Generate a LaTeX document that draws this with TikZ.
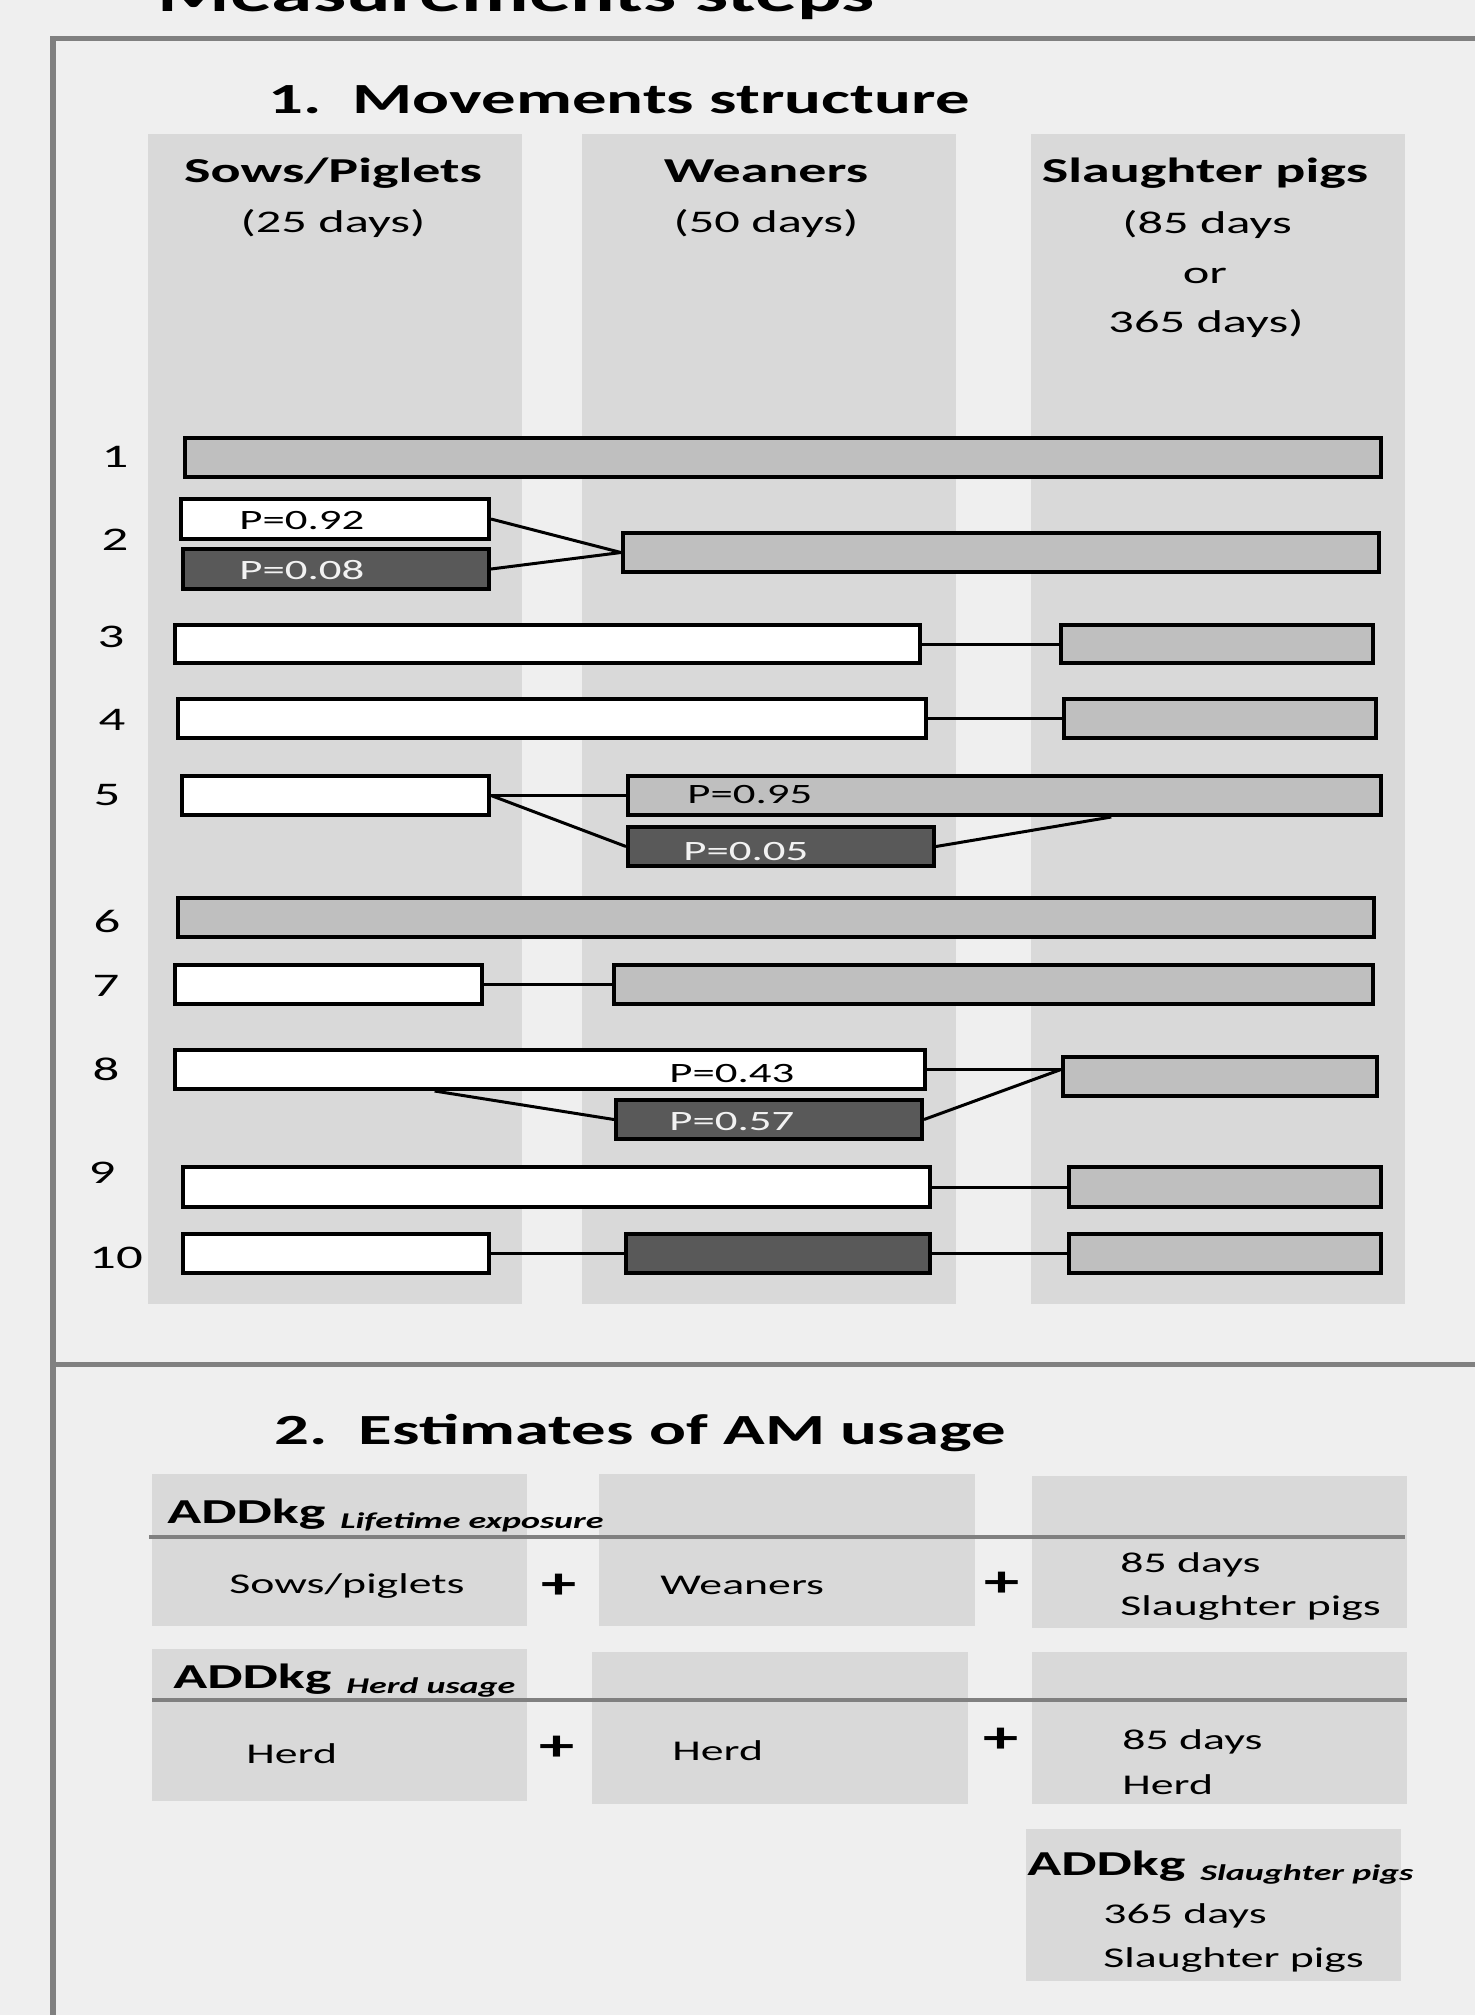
\documentclass[tikz,border=0pt]{standalone}
\usepackage{fontspec}
\setmainfont{Carlito}[FakeStretch=1.6]
\usetikzlibrary{positioning, calc, fit}
\definecolor{bgPage}{HTML}{EFEFEF}
\definecolor{bgPanel}{HTML}{D9D9D9}
\definecolor{barGray}{HTML}{BFBFBF}
\definecolor{barDark}{HTML}{595959}
\definecolor{frameGray}{HTML}{808080}
\definecolor{textLight}{HTML}{F2F2F2}
\tikzset{
  panel/.style={fill=bgPanel, draw=none, inner sep=0pt},
  bar/.style={draw=black, line width=2pt, inner sep=0pt},
  wbar/.style={bar, fill=white},
  gbar/.style={bar, fill=barGray},
  dbar/.style={bar, fill=barDark},
  link/.style={draw=black, line width=1.5pt},
  frameline/.style={draw=frameGray, line width=2.75pt},
  divline/.style={draw=frameGray, line width=2pt},
  txt/.style={inner sep=0pt, text=black},
  bigtitle/.style={txt, font=\fontsize{26}{31}\selectfont\bfseries},
  sectitle/.style={txt, font=\fontsize{21.5}{26}\selectfont\bfseries},
  colhead/.style={txt, font=\fontsize{17.5}{21}\selectfont\bfseries},
  colsub/.style={txt, font=\fontsize{15.75}{19}\selectfont},
  rowlbl/.style={txt, font=\fontsize{16.5}{20}\selectfont},
  plbl/.style={txt, font=\fontsize{14}{17}\selectfont},
  plbldark/.style={plbl, text=textLight},
  addkg/.style={txt, font=\fontsize{17.5}{21}\selectfont\bfseries},
  boxtxt/.style={txt, font=\fontsize{14.3}{17}\selectfont},
  plussign/.style={txt, font=\fontsize{22}{26}\selectfont\bfseries},
}
\newcommand{\addsub}[1]{\hspace{7.5pt}\raisebox{-2.5pt}{\fontsize{11.25}{13}\selectfont\bfseries\itshape #1}}

\begin{document}
\begin{tikzpicture}[x=0.5pt, y=-0.5pt]

  % page and bounding box
  \fill[bgPage] (0,0) rectangle (1475,2015);
  \useasboundingbox (0,0) rectangle (1475,2015);

  % === Frame ===
  \draw[frameline] (1480,38.5) -- (53,38.5) -- (53,2020);
  \draw[frameline] (53,1364.5) -- (1480,1364.5);
  \node[bigtitle, anchor=base west] (title) at (157,11) {Measurements steps};

  % === 1. Movements structure ===
  \node[sectitle, anchor=base west] (sec1) at (268,113) {1.~~Movements structure};
  \node[panel, fit={(148,134) (522,1304)}] (colSow) {};
  \node[panel, fit={(582,134) (956,1304)}] (colWean) {};
  \node[panel, fit={(1031,134) (1405,1304)}] (colSlau) {};

  % column headers
  \node[colhead, anchor=base] (hSow) at (333,182) {Sows/Piglets};
  \node[colsub, anchor=base] (hSowDays) at (333,232) {(25 days)};
  \node[colhead, anchor=base] (hWean) at (766,182) {Weaners};
  \node[colsub, anchor=base] (hWeanDays) at (766,232) {(50 days)};
  \node[colhead, anchor=base] (hSlau) at (1205,182) {Slaughter pigs};
  \node[colsub, anchor=base] (hSlauA) at (1207,233) {(85 days};
  \node[colsub, anchor=base] (hSlauB) at (1205,283) {or};
  \node[colsub, anchor=base] (hSlauC) at (1206,332) {365 days)};

  % row numbers
  \foreach \n/\x/\y in {1/115/467, 2/115/550, 3/111/647, 4/112/730, 5/107/805,
                        6/107/932, 7/106/996, 8/106/1080, 9/102/1183, 10/116/1268} {
    \node[rowlbl, anchor=base] (lbl\n) at (\x,\y) {\n};
  }

  % bars
  \node[gbar, fit={(185,438) (1381,477)}] (r1) {};

  \node[wbar, fit={(181,499) (489,539)}] (r2a) {};
  \node[dbar, fit={(183,549) (489,589)}] (r2b) {};
  \node[gbar, fit={(623,533) (1379,572)}] (r2c) {};

  \node[wbar, fit={(175,625) (920,663)}] (r3a) {};
  \node[gbar, fit={(1061,625) (1373,663)}] (r3b) {};

  \node[wbar, fit={(178,699) (926,738)}] (r4a) {};
  \node[gbar, fit={(1064,699) (1376,738)}] (r4b) {};

  \node[wbar, fit={(182,776) (489,815)}] (r5a) {};
  \node[gbar, fit={(628,776) (1381,815)}] (r5b) {};
  \node[dbar, fit={(628,827) (934,866)}] (r5c) {};

  \node[gbar, fit={(178,898) (1374,937)}] (r6) {};

  \node[wbar, fit={(175,965) (482,1004)}] (r7a) {};
  \node[gbar, fit={(614,965) (1373,1004)}] (r7b) {};

  \node[wbar, fit={(175,1050) (925,1089)}] (r8a) {};
  \node[dbar, fit={(616,1100) (922,1139)}] (r8b) {};
  \node[gbar, fit={(1063,1057) (1377,1096)}] (r8c) {};

  \node[wbar, fit={(183,1167) (930,1207)}] (r9a) {};
  \node[gbar, fit={(1069,1167) (1381,1207)}] (r9b) {};

  \node[wbar, fit={(183,1234) (489,1273)}] (r10a) {};
  \node[dbar, fit={(626,1234) (930,1273)}] (r10b) {};
  \node[gbar, fit={(1069,1234) (1381,1273)}] (r10c) {};

  % probabilities
  \node[plbl, anchor=base west] (p2a) at (239,529) {P=0.92};
  \node[plbldark, anchor=base west] (p2b) at (239,579) {P=0.08};
  \node[plbl, anchor=base west] (p5b) at (687,803) {P=0.95};
  \node[plbldark, anchor=base west] (p5c) at (683,860) {P=0.05};
  \node[plbl, anchor=base west] (p8a) at (669,1082) {P=0.43};
  \node[plbldark, anchor=base west] (p8b) at (669,1130) {P=0.57};

  % links between stages
  \draw[link] (r2a.east) -- (r2c.west);
  \draw[link] (r2b.east) -- (r2c.west);
  \draw[link] (r3a.east) -- (r3b.west);
  \draw[link] (r4a.east) -- (r4b.west);
  \draw[link] (r5a.east) -- (r5b.west);
  \draw[link] (r5a.east) -- (r5c.west);
  \draw[link] (r5c.east) -- ($(r5b.south west)!0.641!(r5b.south east)$);
  \draw[link] (r7a.east) -- (r7b.west);
  \coordinate (j8) at (r8a.east -| r8c.west);
  \draw[link] (r8a.east) -- (j8);
  \draw[link] (r8b.east) -- (j8);
  \draw[link] ($(r8a.south west)!0.347!(r8a.south east)$) -- (r8b.west);
  \draw[link] (r9a.east) -- (r9b.west);
  \draw[link] (r10a.east) -- (r10b.west);
  \draw[link] (r10b.east) -- (r10c.west);

  % === 2. Estimates of AM usage ===
  \node[sectitle, anchor=base west] (sec2) at (274,1444) {2.~~Estimates of AM usage};

  \node[panel, fit={(152,1474) (527,1626)}] (a1) {};
  \node[panel, fit={(599,1474) (975,1626)}] (a2) {};
  \node[panel, fit={(1032,1476) (1407,1628)}] (a3) {};
  \node[panel, fit={(152,1649) (527,1801)}] (b1) {};
  \node[panel, fit={(592,1652) (968,1804)}] (b2) {};
  \node[panel, fit={(1032,1652) (1407,1804)}] (b3) {};
  \node[panel, fit={(1026,1829) (1401,1981)}] (c1) {};

  \draw[divline] (149,1537) -- (1405,1537);
  \draw[divline] (152,1700) -- (1407,1700);

  % lifetime exposure
  \node[addkg, anchor=base west] (addA) at (167,1523) {ADDkg\addsub{Lifetime exposure}};
  \node[boxtxt, anchor=base west] (tA1) at (229,1593) {Sows/piglets};
  \node[plussign] (plA1) at (559,1586) {+};
  \node[boxtxt, anchor=base west] (tA2) at (660,1594) {Weaners};
  \node[plussign] (plA2) at (1002,1584) {+};
  \node[boxtxt, anchor=base west] (tA3) at (1120,1572) {85 days};
  \node[boxtxt, anchor=base west] (tA3b) at (1120,1615) {Slaughter pigs};

  % herd usage
  \node[addkg, anchor=base west] (addB) at (173,1688) {ADDkg\addsub{Herd usage}};
  \node[boxtxt, anchor=base west] (tB1) at (246,1763) {Herd};
  \node[plussign] (plB1) at (557,1748) {+};
  \node[boxtxt, anchor=base west] (tB2) at (672,1760) {Herd};
  \node[plussign] (plB2) at (1001,1740) {+};
  \node[boxtxt, anchor=base west] (tB3) at (1122,1749) {85 days};
  \node[boxtxt, anchor=base west] (tB3b) at (1122,1794) {Herd};

  % slaughter pigs
  \node[addkg, anchor=base west] (addC) at (1027,1875) {ADDkg\addsub{Slaughter pigs}};
  \node[boxtxt, anchor=base west] (tC1) at (1103,1923) {365 days};
  \node[boxtxt, anchor=base west] (tC1b) at (1103,1967) {Slaughter pigs};

\end{tikzpicture}
\end{document}
